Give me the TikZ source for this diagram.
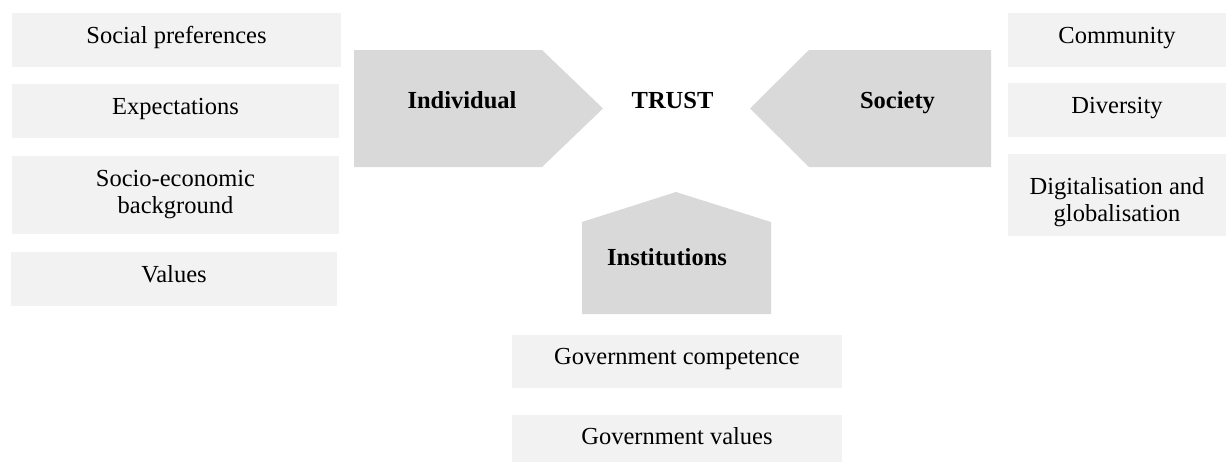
\documentclass[tikz,border=0pt]{standalone}
\usepackage{fontspec}
\setmainfont{Liberation Serif}
\usetikzlibrary{positioning}
\definecolor{boxgray}{HTML}{F2F2F2}
\definecolor{arrowgray}{HTML}{D9D9D9}
\newcommand{\factorfont}{\fontsize{24.5}{27}\selectfont}

\begin{document}
\begin{tikzpicture}[x=1pt,y=-1pt]
\tikzset{factor/.style={fill=boxgray, inner sep=0pt, align=center, font=\factorfont,
    text height=17pt, text depth=11pt},
  twoline/.style={text height={}, text depth={}},
  force/.style={font=\bfseries\factorfont, inner sep=0pt, anchor=base}}
\useasboundingbox (0,0) rectangle (1226,461);

% individual
\node[factor, minimum width=329pt, minimum height=54pt] (socpref) at (176.5,40) {Social preferences};
\node[factor, minimum width=327pt, minimum height=54pt, below=17pt of socpref.south west, anchor=north west] (expect) {Expectations};
\node[factor, twoline, minimum width=327pt, minimum height=78pt, below=17pt of expect.south west, anchor=north west] (socioeco) {Socio-economic\\background};
\node[factor, minimum width=326pt, minimum height=54pt, below=18pt of socioeco.south west, anchor=north west, xshift=-1pt] (values) {Values};

% society
\node[factor, minimum width=218pt, minimum height=54pt] (community) at (1117,40) {Community};
\node[factor, minimum width=218pt, minimum height=54pt, below=16pt of community] (diversity) {Diversity};
\node[factor, twoline, minimum width=218pt, minimum height=82pt, below=16pt of diversity] (digital) {\rule{0pt}{31pt}Digitalisation and\\globalisation};

% institutions
\node[factor, minimum width=330pt, minimum height=53pt] (govcomp) at (677,361.5) {Government competence};
\node[factor, minimum width=330pt, minimum height=53pt, below=27pt of govcomp] (govval) {Government values};

% arrows into trust
\fill[arrowgray] (354,50) -- (542,50) -- (603,108.5) -- (542,167) -- (354,167) -- cycle;
\fill[arrowgray] (991,50) -- (809,50) -- (750,108.5) -- (809,167) -- (991,167) -- cycle;
\fill[arrowgray] (582,314) -- (582,222) -- (676,192) -- (771,222) -- (771,314) -- cycle;

\node[force] (indiv) at (462,108.5) {Individual};
\node[force] (trust) at (672.5,108) {TRUST};
\node[force] (society) at (897.5,108.5) {Society};
\node[force] (inst) at (667,265) {Institutions};
\end{tikzpicture}
\end{document}
